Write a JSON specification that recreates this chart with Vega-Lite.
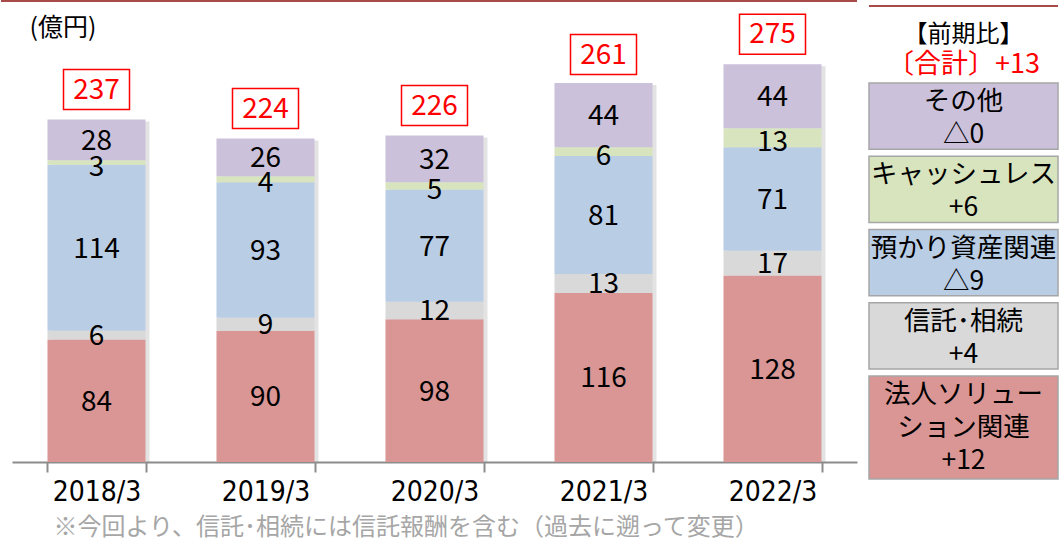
{
  "$schema": "https://vega.github.io/schema/vega-lite/v6.json",
  "autosize": {"type": "pad"},
  "padding": 0,
  "bounds": "flush",
  "spacing": 12,
  "background": "white",
  "config": {"view": {"stroke": null}, "font": "Noto Sans CJK JP"},
  "datasets": {
    "segments": [
      {"year": "2018/3", "category": "法人ソリューション関連", "order": 1, "value": 84},
      {"year": "2018/3", "category": "信託･相続", "order": 2, "value": 6},
      {"year": "2018/3", "category": "預かり資産関連", "order": 3, "value": 114},
      {"year": "2018/3", "category": "キャッシュレス", "order": 4, "value": 3},
      {"year": "2018/3", "category": "その他", "order": 5, "value": 28},
      {"year": "2019/3", "category": "法人ソリューション関連", "order": 1, "value": 90},
      {"year": "2019/3", "category": "信託･相続", "order": 2, "value": 9},
      {"year": "2019/3", "category": "預かり資産関連", "order": 3, "value": 93},
      {"year": "2019/3", "category": "キャッシュレス", "order": 4, "value": 4},
      {"year": "2019/3", "category": "その他", "order": 5, "value": 26},
      {"year": "2020/3", "category": "法人ソリューション関連", "order": 1, "value": 98},
      {"year": "2020/3", "category": "信託･相続", "order": 2, "value": 12},
      {"year": "2020/3", "category": "預かり資産関連", "order": 3, "value": 77},
      {"year": "2020/3", "category": "キャッシュレス", "order": 4, "value": 5},
      {"year": "2020/3", "category": "その他", "order": 5, "value": 32},
      {"year": "2021/3", "category": "法人ソリューション関連", "order": 1, "value": 116},
      {"year": "2021/3", "category": "信託･相続", "order": 2, "value": 13},
      {"year": "2021/3", "category": "預かり資産関連", "order": 3, "value": 81},
      {"year": "2021/3", "category": "キャッシュレス", "order": 4, "value": 6},
      {"year": "2021/3", "category": "その他", "order": 5, "value": 44},
      {"year": "2022/3", "category": "法人ソリューション関連", "order": 1, "value": 128},
      {"year": "2022/3", "category": "信託･相続", "order": 2, "value": 17},
      {"year": "2022/3", "category": "預かり資産関連", "order": 3, "value": 71},
      {"year": "2022/3", "category": "キャッシュレス", "order": 4, "value": 13},
      {"year": "2022/3", "category": "その他", "order": 5, "value": 44}
    ],
    "totals": [
      {"year": "2018/3", "total": 237},
      {"year": "2019/3", "total": 224},
      {"year": "2020/3", "total": 226},
      {"year": "2021/3", "total": 261},
      {"year": "2022/3", "total": 275}
    ],
    "legend": [
      {"category": "その他", "order": 1, "lines": 2, "label": "その他\n△0"},
      {"category": "キャッシュレス", "order": 2, "lines": 2, "label": "キャッシュレス\n+6"},
      {"category": "預かり資産関連", "order": 3, "lines": 2, "label": "預かり資産関連\n△9"},
      {"category": "信託･相続", "order": 4, "lines": 2, "label": "信託･相続\n+4"},
      {"category": "法人ソリューション関連", "order": 5, "lines": 3, "label": "法人ソリュー\nション関連\n+12"}
    ],
    "header": [
      {"h": "【前期比】"},
      {"h": "〔合計〕+13"}
    ]
  },
  "hconcat": [
    {
      "width": 856,
      "height": 462,
      "layer": [
        {
          "data": {"name": "segments"},
          "mark": {"type": "bar", "color": "#7f7f7f", "opacity": 0.22, "xOffset": 4, "yOffset": 2},
          "encoding": {
            "x": {
              "field": "year", "type": "nominal",
              "scale": {"type": "band", "range": [11, 856], "paddingInner": 0.42, "paddingOuter": 0.21},
              "axis": {
                "title": "※今回より、信託･相続には信託報酬を含む（過去に遡って変更）",
                "labelAngle": 0,
                "labelFont": "DejaVu Sans Condensed",
                "labelFontSize": 28,
                "labelColor": "black",
                "labelPadding": 6,
                "tickBand": "extent",
                "tickSize": 10,
                "tickWidth": 2,
                "tickColor": "#8c8c8c",
                "domainColor": "#8c8c8c",
                "domainWidth": 2,
                "titleFont": "Noto Sans CJK JP",
                "titleFontSize": 24,
                "titleFontWeight": "normal",
                "titleColor": "#a6a6a6",
                "titleAnchor": "start",
                "titleAlign": "left",
                "titleBaseline": "middle",
                "titleX": 52,
                "titleY": 65
              }
            },
            "y": {
              "aggregate": "sum", "field": "value", "type": "quantitative",
              "scale": {"domain": [0, 317], "nice": false},
              "axis": {
                "title": "(億円)",
                "labels": false, "ticks": false, "domain": false, "grid": false,
                "titleAngle": 0, "titleAlign": "left", "titleBaseline": "middle",
                "titleX": 28, "titleY": 27,
                "titleFont": "Noto Sans CJK JP",
                "titleFontSize": 25, "titleFontWeight": "normal", "titleColor": "black"
              }
            }
          }
        },
        {
          "data": {"name": "segments"},
          "transform": [
            {"stack": "value", "groupby": ["year"], "sort": [{"field": "order", "order": "ascending"}], "as": ["v0", "v1"]},
            {"calculate": "(datum.v0 + datum.v1) / 2", "as": "mid"}
          ],
          "layer": [
            {
              "mark": {"type": "bar"},
              "encoding": {
                "x": {"field": "year", "type": "nominal"},
                "y": {"field": "v0", "type": "quantitative"},
                "y2": {"field": "v1"},
                "color": {
                  "field": "category", "type": "nominal",
                  "scale": {
                    "domain": ["法人ソリューション関連", "信託･相続", "預かり資産関連", "キャッシュレス", "その他"],
                    "range": ["#d99694", "#d9d9d9", "#b9cde5", "#d7e4bd", "#ccc1da"]
                  },
                  "legend": null
                }
              }
            },
            {
              "transform": [{"filter": "datum.category !== 'キャッシュレス'"}],
              "mark": {"type": "text", "fontSize": 28, "color": "black", "baseline": "middle", "yOffset": 2},
              "encoding": {
                "x": {"field": "year", "type": "nominal"},
                "y": {"field": "mid", "type": "quantitative"},
                "text": {"field": "value", "type": "quantitative"}
              }
            },
            {
              "transform": [{"filter": "datum.category === 'キャッシュレス'"}],
              "mark": {"type": "text", "fontSize": 28, "color": "black", "baseline": "middle", "yOffset": 5},
              "encoding": {
                "x": {"field": "year", "type": "nominal"},
                "y": {"field": "mid", "type": "quantitative"},
                "text": {"field": "value", "type": "quantitative"}
              }
            }
          ]
        },
        {
          "data": {"name": "totals"},
          "layer": [
            {
              "mark": {"type": "point", "shape": "M-1.65,-1H1.65V1H-1.65Z", "size": 1600, "filled": false, "fill": "white", "fillOpacity": 1, "stroke": "#ff0000", "strokeWidth": 1.5, "opacity": 1, "yOffset": -27},
              "encoding": {
                "x": {"field": "year", "type": "nominal"},
                "y": {"field": "total", "type": "quantitative"}
              }
            },
            {
              "mark": {"type": "text", "fontSize": 28, "color": "#ff0000", "baseline": "middle", "yOffset": -26},
              "encoding": {
                "x": {"field": "year", "type": "nominal"},
                "y": {"field": "total", "type": "quantitative"},
                "text": {"field": "total", "type": "quantitative"}
              }
            }
          ]
        },
        {
          "data": {"values": [{}]},
          "mark": {"type": "rule", "strokeWidth": 2, "yOffset": 1, "color": "#a84a48"},
          "encoding": {"y": {"datum": 317, "type": "quantitative"}}
        }
      ]
    },
    {
      "spacing": 0,
      "vconcat": [
        {
          "width": 189,
          "height": 82,
          "data": {"name": "header"},
          "encoding": {
            "y": {"field": "h", "type": "nominal", "sort": null, "axis": null, "scale": {"type": "band", "paddingInner": 0, "paddingOuter": 0.14}}
          },
          "layer": [
            {
              "transform": [{"filter": "datum.h === '【前期比】'"}],
              "mark": {"type": "text", "yOffset": 12, "baseline": "middle", "fontSize": 24, "color": "black"},
              "encoding": {"text": {"field": "h"}}
            },
            {
              "transform": [{"filter": "datum.h === '〔合計〕+13'"}],
              "mark": {"type": "text", "yOffset": 6, "baseline": "middle", "fontSize": 27, "color": "#ff0000"},
              "encoding": {"text": {"field": "h"}}
            },
            {
              "mark": {"type": "rule", "strokeWidth": 2, "yOffset": 1, "color": "#a84a48"},
              "encoding": {"y": {"datum": "【前期比】", "type": "nominal", "bandPosition": 0}}
            }
          ]
        },
        {
          "width": 189,
          "height": 403,
          "data": {"name": "legend"},
          "transform": [
            {"stack": "lines", "groupby": [], "sort": [{"field": "order", "order": "ascending"}], "as": ["y0", "y1"]}
          ],
          "layer": [
            {
              "mark": {"type": "rect", "stroke": "#a6a6a6", "strokeWidth": 1.5, "y2Offset": -7},
              "encoding": {
                "y": {"field": "y0", "type": "quantitative", "scale": {"domain": [0, 11], "reverse": true, "nice": false}, "axis": null},
                "y2": {"field": "y1"},
                "color": {
                  "field": "category", "type": "nominal",
                  "scale": {
                    "domain": ["法人ソリューション関連", "信託･相続", "預かり資産関連", "キャッシュレス", "その他"],
                    "range": ["#d99694", "#d9d9d9", "#b9cde5", "#d7e4bd", "#ccc1da"]
                  },
                  "legend": null
                }
              }
            },
            {
              "mark": {"type": "text", "fontSize": 26.5, "lineBreak": "\n", "lineHeight": 33, "yOffset": 19, "color": "black", "baseline": "middle"},
              "encoding": {
                "y": {"field": "y0", "type": "quantitative"},
                "text": {"field": "label"}
              }
            }
          ]
        }
      ]
    }
  ]
}
